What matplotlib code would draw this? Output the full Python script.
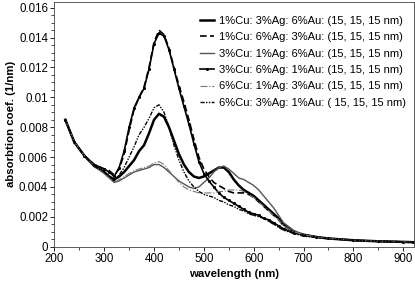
import matplotlib
matplotlib.use("Agg")
import matplotlib.pyplot as plt
from matplotlib.ticker import MultipleLocator, FuncFormatter

plt.rcParams['font.family'] = ['Liberation Sans', 'DejaVu Sans']

wl = [222, 240, 260, 280, 300, 310, 320, 330, 340, 350, 360, 370, 380, 390, 400, 410,
      420, 430, 440, 450, 460, 470, 480, 490, 500, 510, 520, 530, 540, 550, 560, 570,
      580, 590, 600, 610, 620, 630, 640, 650, 660, 680, 700, 725, 750, 800, 850, 900, 920]

cu1_ag3_au6 = [0.0085, 0.0070, 0.0061, 0.0054, 0.0050, 0.0047, 0.0045, 0.0047, 0.0050, 0.0054,
               0.0058, 0.0064, 0.0068, 0.0076, 0.0085, 0.0089, 0.0087, 0.0080, 0.0071, 0.0062,
               0.0055, 0.0050, 0.0047, 0.0046, 0.0047, 0.0049, 0.0051, 0.0053, 0.0053, 0.0050,
               0.0045, 0.0041, 0.0038, 0.0036, 0.0034, 0.0031, 0.0028, 0.0025, 0.0022, 0.0019,
               0.0015, 0.0010, 0.0008, 0.00065, 0.00055, 0.00043, 0.00036, 0.00032, 0.0003]
cu1_ag6_au3 = [0.0085, 0.0070, 0.0061, 0.0055, 0.0052, 0.0051, 0.0048, 0.0052, 0.0062, 0.0078,
               0.0092, 0.0100, 0.0107, 0.0120, 0.0137, 0.0145, 0.0142, 0.0133, 0.0120, 0.0108,
               0.0097, 0.0085, 0.0072, 0.0060, 0.0052, 0.0047, 0.0043, 0.0041, 0.0039, 0.0037,
               0.0036, 0.0036, 0.0036, 0.0035, 0.0033, 0.0030, 0.0027, 0.0024, 0.0021, 0.0018,
               0.0014, 0.0010, 0.0008, 0.00065, 0.00055, 0.00043, 0.00036, 0.00032, 0.0003]
cu3_ag1_au6 = [0.0085, 0.0070, 0.0061, 0.0054, 0.0049, 0.0046, 0.0043, 0.0044, 0.0046, 0.0048,
               0.0050, 0.0051, 0.0052, 0.0053, 0.0055, 0.0055, 0.0053, 0.0050, 0.0047, 0.0044,
               0.0042, 0.0040, 0.0039, 0.0040, 0.0043, 0.0046, 0.0050, 0.0053, 0.0054, 0.0052,
               0.0049, 0.0046, 0.0045, 0.0043, 0.0041, 0.0038, 0.0034, 0.0030, 0.0026, 0.0021,
               0.0016, 0.0011, 0.0008, 0.00065, 0.00055, 0.00043, 0.00036, 0.00032, 0.0003]
cu3_ag6_au1 = [0.0085, 0.0070, 0.0061, 0.0055, 0.0052, 0.0050, 0.0047, 0.0053, 0.0064, 0.0080,
               0.0093, 0.0100, 0.0106, 0.0119, 0.0136, 0.0143, 0.0141, 0.0132, 0.0119, 0.0106,
               0.0094, 0.0082, 0.0069, 0.0057, 0.0049, 0.0044, 0.0040, 0.0036, 0.0033, 0.0031,
               0.0029, 0.0027, 0.0025, 0.0023, 0.0022, 0.0021, 0.0019, 0.0018, 0.0016, 0.0014,
               0.0012, 0.0009, 0.0008, 0.00065, 0.00055, 0.00043, 0.00036, 0.00032, 0.0003]
cu6_ag1_au3 = [0.0085, 0.0070, 0.0061, 0.0054, 0.0049, 0.0046, 0.0043, 0.0045, 0.0047, 0.0049,
               0.0051, 0.0052, 0.0053, 0.0054, 0.0056, 0.0057, 0.0055, 0.0051, 0.0047, 0.0043,
               0.0040, 0.0038, 0.0037, 0.0036, 0.0036, 0.0036, 0.0036, 0.0037, 0.0037, 0.0038,
               0.0038, 0.0038, 0.0037, 0.0035, 0.0033, 0.0030, 0.0027, 0.0024, 0.0021, 0.0018,
               0.0014, 0.0010, 0.0008, 0.00065, 0.00055, 0.00043, 0.00036, 0.00032, 0.0003]
cu6_ag3_au1 = [0.0085, 0.0070, 0.0061, 0.0054, 0.0050, 0.0047, 0.0044, 0.0048, 0.0053, 0.0060,
               0.0067, 0.0075, 0.0080, 0.0086, 0.0093, 0.0095, 0.0090, 0.0080, 0.0068, 0.0058,
               0.0050, 0.0044, 0.0040, 0.0037, 0.0035, 0.0034, 0.0033, 0.0031, 0.0030, 0.0028,
               0.0027, 0.0025, 0.0024, 0.0022, 0.0021, 0.0020, 0.0019, 0.0017, 0.0015, 0.0013,
               0.0011, 0.0009, 0.0007, 0.00062, 0.00053, 0.00042, 0.00035, 0.00031, 0.0003]

labels = ["1%Cu: 3%Ag: 6%Au: (15, 15, 15 nm)",
          "1%Cu: 6%Ag: 3%Au: (15, 15, 15 nm)",
          "3%Cu: 1%Ag: 6%Au: (15, 15, 15 nm)",
          "3%Cu: 6%Ag: 1%Au: (15, 15, 15 nm)",
          "6%Cu: 1%Ag: 3%Au: (15, 15, 15 nm)",
          "6%Cu: 3%Ag: 1%Au: ( 15, 15, 15 nm)"]

fig = plt.figure(figsize=(4.15, 2.99), dpi=100)
ax = fig.add_axes([0.1310, 0.175, 0.867, 0.819])

ax.plot(wl, cu1_ag3_au6, color='black', lw=1.8, ls='-', label=labels[0])
ax.plot(wl, cu1_ag6_au3, color='black', lw=1.2, ls=(0, (4, 2)), label=labels[1])
ax.plot(wl, cu3_ag1_au6, color='#555555', lw=1.0, ls='-', label=labels[2])
ax.plot(wl, cu3_ag6_au1, color='black', lw=1.2, ls='-', marker='.', markersize=2.5, label=labels[3])
ax.plot(wl, cu6_ag1_au3, color='#777777', lw=0.8, ls='-.', label=labels[4])
ax.plot(wl, cu6_ag3_au1, color='black', lw=1.0, ls=(0, (3, 1, 1, 1, 1, 1)), label=labels[5])

ax.set_xlim(200, 922)
ax.set_ylim(0, 0.0164)
ax.xaxis.set_major_locator(MultipleLocator(100))
ax.xaxis.set_minor_locator(MultipleLocator(50))
ax.yaxis.set_major_locator(MultipleLocator(0.002))
ax.yaxis.set_minor_locator(MultipleLocator(0.0005))
ax.yaxis.set_major_formatter(FuncFormatter(lambda v, p: '0' if abs(v) < 1e-12 else ('%g' % round(v, 4))))
ax.tick_params(axis='both', which='major', labelsize=8.3, length=3, width=0.6, direction='out', pad=1.5)
ax.tick_params(axis='both', which='minor', length=2, width=0.5, direction='out')
for s in ax.spines.values():
    s.set_linewidth(0.6)
    s.set_color('#444444')

ax.set_xlabel('wavelength (nm)', fontsize=8.2, fontweight='bold', labelpad=3)
ax.set_ylabel('absorbtion coef. (1/nm)', fontsize=8.2, fontweight='bold', labelpad=2)

leg = ax.legend(loc='upper right', fontsize=8, frameon=False, handlelength=1.3,
                handletextpad=0.45, labelspacing=0.58, borderaxespad=0.3,
                bbox_to_anchor=(1.0, 0.975))

fig.savefig('out.png', dpi=100)
